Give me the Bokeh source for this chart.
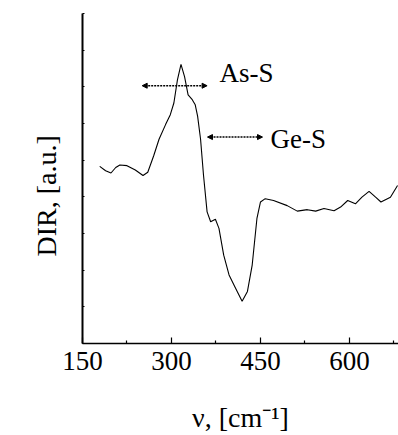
from bokeh.plotting import figure
from bokeh.models import FixedTicker, Arrow, NormalHead, Range1d, Title
from bokeh.core.properties import value
from bokeh.embed import file_html
from bokeh.resources import INLINE

# Data (wavenumber in cm^-1, DIR in arbitrary units)
wavenumber = [179, 189, 198, 206, 213, 225, 239, 252, 260, 270, 279, 290, 298, 304, 310, 316,
              322, 328, 335, 340, 344, 349, 354, 360, 366, 374, 380, 388, 397, 408,
              419, 428, 436, 444, 450, 458, 472, 495, 512, 529, 543, 557, 574, 585,
              597, 610, 621, 633, 644, 653, 669, 681]
dir_au = [4.83, 4.71, 4.65, 4.80, 4.87, 4.85, 4.73, 4.58, 4.67, 5.12, 5.57, 5.97, 6.24, 6.56, 7.19, 7.61,
          7.28, 6.78, 6.65, 6.51, 6.20, 5.57, 4.58, 3.59, 3.32, 3.39, 3.14, 2.41, 1.87, 1.51,
          1.15, 1.42, 2.14, 3.41, 3.86, 3.95, 3.90, 3.76, 3.61, 3.65, 3.61, 3.68, 3.62, 3.72,
          3.90, 3.81, 3.99, 4.15, 3.99, 3.86, 3.99, 4.31]

x_major = [150, 300, 450, 600]
x_minor = [225, 375, 525, 675]
y_ticks = [0, 1, 2, 3, 4, 5, 6, 7, 8, 9]

band_names = ["As-S", "Ge-S"]
band_text_x = [380.9, 466.9]
band_text_y = [7.38, 5.57]

FONT = "Liberation Serif"

p = figure(width=398, height=435, output_backend="svg", toolbar_location=None,
           x_range=Range1d(150, 682.6), y_range=Range1d(0, 9),
           min_border_left=82, min_border_right=0, min_border_top=13, min_border_bottom=89)
p.outline_line_color = None
p.xgrid.visible = False
p.ygrid.visible = False
p.background_fill_color = "white"
p.border_fill_color = "white"

p.line(wavenumber, dir_au, line_color="black", line_width=1.1)

# x axis
xa = p.xaxis[0]
xa.ticker = FixedTicker(ticks=x_major, minor_ticks=x_minor)
xa.major_tick_in = 6
xa.major_tick_out = 0
xa.minor_tick_in = 3
xa.minor_tick_out = 0
xa.axis_line_width = 1.5
xa.major_tick_line_width = 1.2
xa.minor_tick_line_width = 1.2
xa.major_label_text_font = FONT
xa.major_label_text_font_size = "27px"
xa.major_label_text_color = "black"
xa.major_label_standoff = 8
xa.axis_label = "\u03bd, [cm\u207b\u00b9]"
xa.axis_label_text_font = FONT
xa.axis_label_text_font_size = "28px"
xa.axis_label_text_font_style = "normal"
xa.axis_label_text_color = "black"
xa.axis_label_standoff = 29

# y axis (no tick labels)
ya = p.yaxis[0]
ya.ticker = FixedTicker(ticks=y_ticks, minor_ticks=[])
ya.major_tick_in = 2
ya.major_tick_out = 0
ya.minor_tick_in = 0
ya.minor_tick_out = 0
ya.axis_line_width = 2
ya.major_label_text_font_size = "0px"
ya.major_label_standoff = 0
ya.axis_label = None

# y title, placed on the left side
ytitle = Title(text="DIR, [a.u.]", align="left", offset=87, standoff=42,
               text_font=FONT, text_font_size="28px", text_font_style="normal",
               text_color="black")
p.add_layout(ytitle, "left")

# annotations
def head():
    return NormalHead(size=5, fill_color="black", line_color="black", line_width=1)

p.add_layout(Arrow(x_start=250.6, y_start=7.03, x_end=360, y_end=7.03,
                   start=head(), end=head(), line_dash="2 1", line_width=1.5,
                   line_color="black"))
p.add_layout(Arrow(x_start=360.7, y_start=5.63, x_end=453.4, y_end=5.63,
                   start=head(), end=head(), line_dash="2 1", line_width=1.5,
                   line_color="black"))
p.text(x=band_text_x, y=band_text_y, text=band_names, text_align="left",
       text_baseline="middle", text_font=value(FONT),
       text_font_size="27px", text_color="black")

open("out.html", "w").write(file_html(p, INLINE))
